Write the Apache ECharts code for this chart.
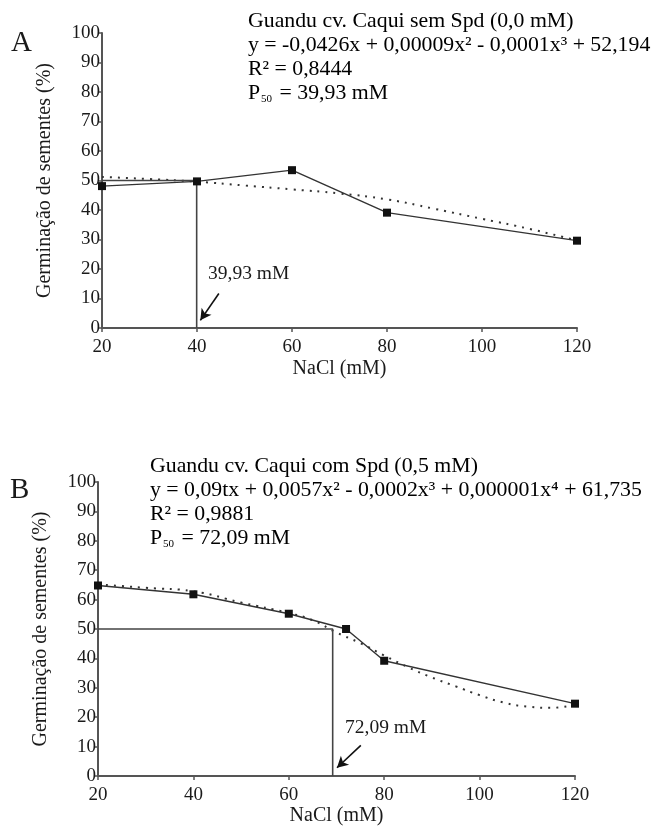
<!DOCTYPE html>
<html>
<head>
<meta charset="utf-8">
<script src="https://cdn.jsdelivr.net/npm/echarts@6/dist/echarts.min.js"></script>
<style>
html,body{margin:0;padding:0;background:#fff;}
#c{width:662px;height:829px;}
</style>
</head>
<body>
<div id="c"></div>
<script>
// ---- data ----
const xTicks = [20, 40, 60, 80, 100, 120];
// Panel A: sem Spd
const naclA = [20, 40, 60, 80, 120];
const germA = [48.1, 49.7, 53.5, 39.1, 29.6];
const fitXA = [20, 30, 40, 50, 60, 70, 80, 90, 100, 110, 120];
const fitA  = [51.2, 50.5, 49.6, 48.3, 47.0, 45.6, 43.6, 40.4, 37.0, 33.6, 29.6];
const p50A = 39.93;
// Panel B: com Spd
const naclB = [20, 40, 60, 72, 80, 120];
const germB = [64.8, 61.8, 55.2, 50.0, 39.2, 24.6];
const fitXB = [20, 25, 30, 40, 50, 60, 65, 70, 75, 80, 85, 90, 95, 100, 105, 110, 115, 120];
const fitB  = [65.2, 64.6, 64.0, 62.8, 59.0, 55.4, 53.0, 48.8, 45.2, 41.0, 37.0, 33.5, 30.5, 27.5, 25.0, 23.6, 23.2, 24.2];
const p50B = 69.2;
const halfLevel = 50;

const FONT = 'Liberation Serif';
const dark = '#1a1a1a';
const axisCol = '#555';

function zip(a, b) { return a.map((v, i) => [v, b[i]]); }

function xAxis(gi) {
  return {
    gridIndex: gi, type: 'value', min: 20, max: 120, interval: 20,
    name: 'NaCl (mM)', nameLocation: 'middle', nameGap: gi === 0 ? 31 : 25,
    nameTextStyle: { fontFamily: FONT, fontSize: 20, color: dark },
    axisLine: { lineStyle: { color: axisCol, width: 2 } },
    axisTick: { show: true, length: 4, lineStyle: { color: axisCol, width: 1.5 } },
    axisLabel: { fontFamily: FONT, fontSize: 19, color: dark, margin: 10 },
    splitLine: { show: false }
  };
}
function yAxis(gi) {
  return {
    gridIndex: gi, type: 'value', min: 0, max: 100, interval: 10,
    name: 'Germinação de sementes (%)', nameLocation: 'middle', nameGap: 47,
    nameTextStyle: { fontFamily: FONT, fontSize: 20, color: dark },
    axisLine: { show: true, lineStyle: { color: axisCol, width: 2 } },
    axisTick: { show: true, length: 3, lineStyle: { color: axisCol, width: 1.5 } },
    axisLabel: { fontFamily: FONT, fontSize: 19, color: dark, margin: 2 },
    splitLine: { show: false }
  };
}
function panelSeries(gi, nx, ny, fx, fy, p50, arrowFrom, arrowTo) {
  return [
    {
      type: 'line', xAxisIndex: gi, yAxisIndex: gi, data: zip(fx, fy),
      smooth: true, symbol: 'none', silent: true,
      lineStyle: { color: '#333', width: 2, type: [2, 6] }, z: 2
    },
    {
      type: 'line', xAxisIndex: gi, yAxisIndex: gi,
      data: [[20, halfLevel], [p50, halfLevel], [p50, 0]],
      symbol: 'none', silent: true,
      lineStyle: { color: '#444', width: 1.6 }, z: 3,
      markLine: {
        silent: true, symbol: ['none', 'arrow'], symbolSize: [9, 11],
        label: { show: false },
        lineStyle: { color: '#111', width: 1.6, type: 'solid' },
        data: [[{ coord: arrowFrom }, { coord: arrowTo }]]
      }
    },
    {
      type: 'line', xAxisIndex: gi, yAxisIndex: gi, data: zip(nx, ny),
      symbol: 'rect', symbolSize: 8, silent: true,
      itemStyle: { color: '#111' },
      lineStyle: { color: '#333', width: 1.4 }, z: 4
    }
  ];
}

const rich = {
  t: { fontFamily: FONT, fontSize: 21.8, color: dark, lineHeight: 24 },
  s: { fontFamily: FONT, fontSize: 11, color: dark, lineHeight: 24, verticalAlign: 'bottom', padding: [0, 2, 0, 1] }
};

const chart = echarts.init(document.getElementById('c'), null, { renderer: 'canvas' });
chart.setOption({
  animation: false,
  backgroundColor: '#fff',
  grid: [
    { left: 102, top: 33, width: 475, height: 295 },
    { left: 98, top: 482, width: 477, height: 294 }
  ],
  xAxis: [xAxis(0), xAxis(1)],
  yAxis: [yAxis(0), yAxis(1)],
  series: [
    ...panelSeries(0, naclA, germA, fitXA, fitA, p50A, [44.6, 11.7], [40.7, 2.6]),
    ...panelSeries(1, naclB, germB, fitXB, fitB, p50B, [75.1, 10.4], [70.1, 2.8])
  ],
  graphic: [
    { type: 'text', left: 11, top: 29, style: { text: 'A', fontFamily: FONT, fontSize: 29, fill: dark } },
    { type: 'text', left: 10, top: 476, style: { text: 'B', fontFamily: FONT, fontSize: 29, fill: dark } },
    { type: 'text', left: 248, top: 10, style: {
      text: '{t|Guandu cv. Caqui sem Spd (0,0 mM)}\n{t|y = -0,0426x + 0,00009x² - 0,0001x³ + 52,194}\n{t|R² = 0,8444}\n{t|P}{s|50}{t| = 39,93 mM}',
      rich: rich } },
    { type: 'text', left: 150, top: 455, style: {
      text: '{t|Guandu cv. Caqui com Spd (0,5 mM)}\n{t|y = 0,09tx + 0,0057x² - 0,0002x³ + 0,000001x⁴ + 61,735}\n{t|R² = 0,9881}\n{t|P}{s|50}{t| = 72,09 mM}',
      rich: rich } },
    { type: 'text', left: 208, top: 264, style: { text: '39,93 mM', fontFamily: FONT, fontSize: 19.5, fill: dark } },
    { type: 'text', left: 345, top: 718, style: { text: '72,09 mM', fontFamily: FONT, fontSize: 19.5, fill: dark } }
  ]
});
</script>
</body>
</html>
